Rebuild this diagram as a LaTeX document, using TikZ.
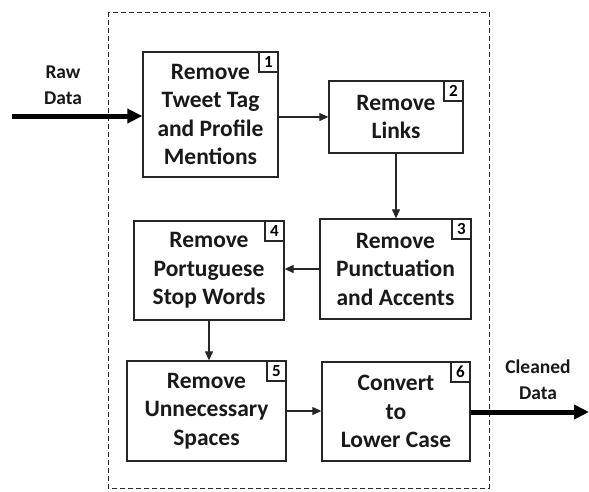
\documentclass[tikz,border=0pt]{standalone}
\usepackage{fontspec}
\setmainfont{Carlito}
\usetikzlibrary{arrows.meta,positioning}
\begin{document}
\begin{tikzpicture}[x=1pt,y=-1pt,
  stepbox/.style={draw=black!85,line width=1.3pt,rectangle,inner sep=0pt,align=center,
    font=\bfseries\fontsize{23.5}{28.5}\selectfont,text=black!90},
  numbox/.style={draw=black!85,line width=1.2pt,rectangle,inner sep=0pt,
    minimum width=19pt,minimum height=20pt,anchor=north east,font=\bfseries\fontsize{17}{17}\selectfont},
  conn/.style={draw=black!85,line width=1.1pt,-{Triangle[length=9pt,width=8pt]}},
  thick arrow/.style={draw=black,line width=5pt,-{Triangle[length=15pt,width=14pt]}},
  lbl/.style={align=center,font=\bfseries\fontsize{19.5}{26}\selectfont,text=black!90}]
\useasboundingbox (0,0) rectangle (589,491);
\fill[white] (0,0) rectangle (589,491);
% dashed frame
\draw[black!85,line width=1pt,dash pattern=on 5pt off 3pt] (108,12) rectangle (489,488);
% boxes
\node[stepbox,minimum width=135pt,minimum height=125pt] (b1) at (210.5,114.5) {Remove\\Tweet Tag\\and Profile\\Mentions};
\node[stepbox,minimum width=134pt,minimum height=72pt] (b2) at (396,117) {Remove\\Links};
\node[stepbox,minimum width=151pt,minimum height=100pt] (b3) at (395.5,269) {Remove\\Punctuation\\and Accents};
\node[stepbox,minimum width=150pt,minimum height=99pt] (b4) at (209,270.5) {Remove\\Portuguese\\Stop Words};
\node[stepbox,minimum width=159pt,minimum height=100pt] (b5) at (206.5,411) {Remove\\Unnecessary\\Spaces};
\node[stepbox,minimum width=148pt,minimum height=99pt] (b6) at (396,411.5) {Convert\\to\\Lower Case};
% numbers
\node[numbox] (n1) at (b1.north east) {1};
\node[numbox] (n2) at (b2.north east) {2};
\node[numbox] (n3) at (b3.north east) {3};
\node[numbox] (n4) at (b4.north east) {4};
\node[numbox] (n5) at (b5.north east) {5};
\node[numbox] (n6) at (b6.north east) {6};
% connectors
\draw[conn] (b1.east |- b2.west) -- (b2.west);
\draw[conn] (b2.south) -- (b2.south |- b3.north);
\draw[conn] (b3.west) -- (b4.east |- b3.west);
\draw[conn] (b4.south) -- (b4.south |- b5.north);
\draw[conn] (b5.east) -- (b6.west |- b5.east);
% input / output
\coordinate (in) at (12,116);
\coordinate (out) at (589,412);
\node[lbl] (raw) at (63,85) {Raw\\Data};
\node[lbl] (clean) at (538,380) {Cleaned\\Data};
\draw[thick arrow] (in) -- (b1.west |- in);
\draw[thick arrow] (b6.east |- out) -- (out);
\end{tikzpicture}
\end{document}
